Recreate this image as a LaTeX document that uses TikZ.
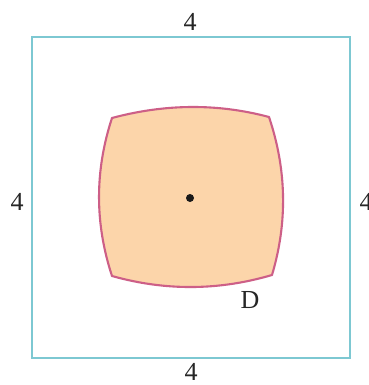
\documentclass[tikz,border=0pt]{standalone}
\usepackage{fontspec}
\setmainfont{Liberation Serif}
\begin{document}
\begin{tikzpicture}[x=1pt,y=-1pt,
  lab/.style={font=\fontsize{26}{30}\selectfont, inner sep=0pt, text=black!85},
  frame/.style={draw=sqcol, line width=1.4pt},
  region/.style={draw=rimcol, fill=fillcol, line width=2.1pt, line join=round}]
\definecolor{sqcol}{RGB}{125,200,210}
\definecolor{rimcol}{RGB}{205,95,135}
\definecolor{fillcol}{RGB}{252,213,170}
\useasboundingbox (0,0) rectangle (368,385);
\fill[white] (0,0) rectangle (368,385);
\coordinate (sqa) at (32,37);
\coordinate (sqb) at (350,358);
\draw[frame] (sqa) rectangle (sqb);
\coordinate (tl) at (112,118);
\coordinate (tr) at (269,117);
\coordinate (br) at (272,275);
\coordinate (bl) at (112,276);
\draw[region] (tl) .. controls (165.3,103.7) and (217.7,103.3) .. (tr)
  .. controls (286.7,169.7) and (287.7,222.3) .. (br)
  .. controls (218.7,290.7) and (165.3,291) .. (bl)
  .. controls (94.7,223.3) and (94.7,170.7) .. cycle;
\fill[black!90] (190,198) circle (4pt);
\node[lab] (top) at (190,22) {4};
\node[lab] (bot) at (191,372) {4};
\node[lab] (lft) at (17,202) {4};
\node[lab] (rgt) at (366,202) {4};
\node[lab] (dlab) at (250,300) {D};
\end{tikzpicture}
\end{document}
